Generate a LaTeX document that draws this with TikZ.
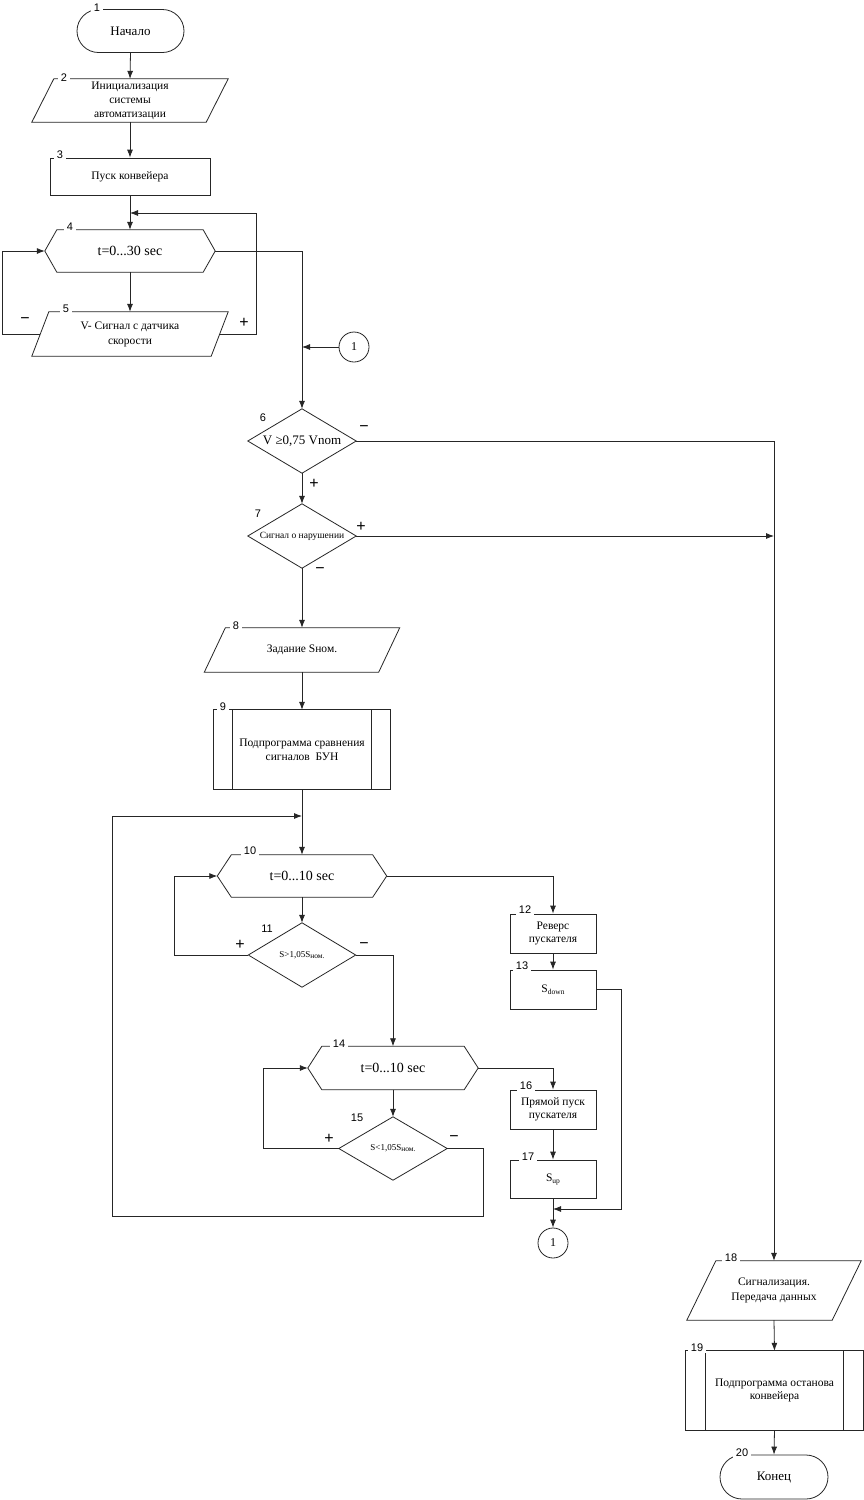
\documentclass[tikz,border=0pt]{standalone}
\usepackage{fontspec}
\setmainfont{Liberation Serif}
\newfontfamily\numfont{Liberation Sans}
\usetikzlibrary{arrows.meta,calc}

\newcommand\hexo[2]{\draw[fcline] (#1.west) -- ($(#1.north west)+(#2,0)$) -- ($(#1.north east)-(#2,0)$) -- (#1.east) -- ($(#1.south east)-(#2,0)$) -- ($(#1.south west)+(#2,0)$) -- cycle;}
\newcommand\parao[2]{\draw[fcline] (#1.south west) -- ($(#1.north west)+(#2,0)$) -- (#1.north east) -- ($(#1.south east)-(#2,0)$) -- cycle;}
\newcommand\predo[2]{\draw[fcline] (#1.north west) rectangle (#1.south east);
  \draw[fcline] ($(#1.north west)+(#2,0)$) -- ($(#1.south west)+(#2,0)$);
  \draw[fcline] ($(#1.north east)-(#2,0)$) -- ($(#1.south east)-(#2,0)$);}
\newcommand\diao[1]{\draw[fcline] (#1.north) -- (#1.east) -- (#1.south) -- (#1.west) -- cycle;}

\tikzset{
  fcline/.style={draw=black!85, line width=0.8pt},
  fcarr/.style={fcline, -{Latex[length=8pt,width=6pt]}},
  fcbox/.style n args={2}{inner sep=0pt, align=center, minimum width=#1, minimum height=#2, font=\fontsize{11.5}{14}\selectfont},
  fcnum/.style={fill=white, inner xsep=3pt, inner ysep=1pt, font=\numfont\fontsize{11}{12}\selectfont},
  fcsgn/.style={inner sep=0pt, font=\numfont\fontsize{16}{16}\selectfont},
  fcconn/.style={fcline, circle, minimum size=30pt, inner sep=0pt, font=\fontsize{12}{14}\selectfont},
}

\begin{document}
\begin{tikzpicture}[x=1pt,y=-1pt]
\fill[white] (0,0) rectangle (864,1500);
\useasboundingbox (0,0) rectangle (864,1500);

% ---- nodes ----
\node[fcbox={107pt}{43pt}, fcline, rounded corners=21.5pt, font=\fontsize{13}{15}\selectfont] (n1) at (130.5,31) {Начало};
\node[fcbox={196pt}{43pt}] (n2) at (130,100.5) {Инициализация\\системы\\автоматизации};
\node[fcbox={160pt}{37pt}, fcline] (n3) at (130,176.5) {Пуск конвейера};
\node[fcbox={170pt}{42pt}, font=\fontsize{14}{16}\selectfont] (n4) at (130,251) {t=0...30 sec};
\node[fcbox={196pt}{44pt}, font=\fontsize{11.5}{15}\selectfont] (n5) at (130,334) {V- Сигнал с датчика\\скорости};
\node[fcconn] (c1) at (354,347) {1};
\node[fcbox={108pt}{64pt}, font=\fontsize{13}{15}\selectfont] (n6) at (302,441) {V ≥0,75 Vnom};
\node[fcbox={108pt}{64pt}, font=\fontsize{9.5}{11}\selectfont] (n7) at (302,536) {Сигнал о нарушении};
\node[fcbox={195pt}{44pt}] (n8) at (302,650) {Задание Sном.};
\node[fcbox={177pt}{79pt}] (n9) at (302,749.5) {Подпрограмма сравнения\\сигналов~~БУН};
\node[fcbox={169pt}{42pt}, font=\fontsize{14}{16}\selectfont] (n10) at (302,876) {t=0...10 sec};
\node[fcbox={107pt}{64pt}, font=\fontsize{9}{11}\selectfont] (n11) at (302,955) {S>1,05S\raisebox{-1pt}{\fontsize{7.5}{8}\selectfont ном.}};
\node[fcbox={86pt}{39pt}, fcline, font=\fontsize{11.5}{13.5}\selectfont] (n12) at (553,933.5) {Реверс\\пускателя};
\node[fcbox={86pt}{39pt}, fcline] (n13) at (553,989.5) {S\raisebox{-2pt}{\fontsize{7.5}{8}\selectfont down}};
\node[fcbox={170pt}{43pt}, font=\fontsize{14}{16}\selectfont] (n14) at (393,1068) {t=0...10 sec};
\node[fcbox={108pt}{63pt}, font=\fontsize{9}{11}\selectfont] (n15) at (393,1148.5) {S<1,05S\raisebox{-1pt}{\fontsize{7.5}{8}\selectfont ном.}};
\node[fcbox={86pt}{39pt}, fcline, font=\fontsize{11.5}{13.5}\selectfont] (n16) at (553,1109.5) {Прямой пуск\\пускателя};
\node[fcbox={86pt}{38pt}, fcline] (n17) at (553,1179) {S\raisebox{-2pt}{\fontsize{7.5}{8}\selectfont up}};
\node[fcconn] (c2) at (553,1243) {1};
\node[fcbox={174pt}{59pt}, font=\fontsize{11.5}{15}\selectfont] (n18) at (774,1290.5) {Сигнализация.\\Передача данных};
\node[fcbox={177pt}{79pt}, font=\fontsize{11.5}{13.5}\selectfont] (n19) at (774.5,1390.5) {Подпрограмма останова\\конвейера};
\node[fcbox={108pt}{44pt}, fcline, rounded corners=22pt, font=\fontsize{13}{15}\selectfont] (n20) at (774,1477) {Конец};

% ---- outlines ----
\parao{n2}{22}
\hexo{n4}{12}
\parao{n5}{17}
\diao{n6}
\diao{n7}
\parao{n8}{21}
\predo{n9}{19}
\hexo{n10}{14}
\diao{n11}
\hexo{n14}{14}
\diao{n15}
\parao{n18}{29}
\predo{n19}{20}

% ---- connectors ----
\coordinate (j1) at (130,213);
\coordinate (j2) at (302,347);
\coordinate (j3) at (774,536);
\coordinate (j4) at (302,816);
\coordinate (j5) at (553,1209);

\draw[fcarr] (n1.south) -- (n2.north);
\draw[fcarr] (n2.south) -- (n3.north);
\draw[fcarr] (n3.south) -- (n4.north);
\draw[fcarr] (n4.south) -- (n5.north);
\draw[fcarr] ($(n5.east)+(-8.5,0)$) -| (256,213) -- (j1);
\draw[fcarr] ($(n5.west)+(8.5,0)$) -| (2,251) -- (n4.west);
\draw[fcarr] (n4.east) -| (n6.north);
\draw[fcarr] (c1.west) -- (j2);
\draw[fcarr] (n6.east) -| (n18.north);
\draw[fcarr] (n6.south) -- (n7.north);
\draw[fcarr] (n7.east) -- (j3);
\draw[fcarr] (n7.south) -- (n8.north);
\draw[fcarr] (n8.south) -- (n9.north);
\draw[fcarr] (n9.south) -- (n10.north);
\draw[fcarr] (n10.south) -- (n11.north);
\draw[fcarr] (n11.west) -| (174,876) -- (n10.west);
\draw[fcarr] (n11.east) -| (n14.north);
\draw[fcarr] (n10.east) -| (n12.north);
\draw[fcarr] (n12.south) -- (n13.north);
\draw[fcarr] (n13.east) -| (621,1209) -- (j5);
\draw[fcarr] (n14.south) -- (n15.north);
\draw[fcarr] (n15.west) -| (263,1068) -- (n14.west);
\draw[fcarr] (n15.east) -| (483,1216) -| (112,816) -- (j4);
\draw[fcarr] (n14.east) -| (n16.north);
\draw[fcarr] (n16.south) -- (n17.north);
\draw[fcarr] (n17.south) -- (c2.north);
\draw[fcarr] (n18.south) -- (n19.north);
\draw[fcarr] (n19.south) -- (n20.north);

% ---- numbers ----
\node[fcnum] (l1) at (97,8) {1};
\node[fcnum] (l2) at (64,77.5) {2};
\node[fcnum] (l3) at (60,155) {3};
\node[fcnum] (l4) at (70,227) {4};
\node[fcnum] (l5) at (66,309) {5};
\node[fcnum] (l6) at (263,418) {6};
\node[fcnum] (l7) at (258,514) {7};
\node[fcnum] (l8) at (236,626) {8};
\node[fcnum] (l9) at (223,707) {9};
\node[fcnum] (l10) at (250,851) {10};
\node[fcnum] (l11) at (267,929) {11};
\node[fcnum] (l12) at (525,910) {12};
\node[fcnum] (l13) at (522,966) {13};
\node[fcnum] (l14) at (339,1044) {14};
\node[fcnum] (l15) at (357,1118) {15};
\node[fcnum] (l16) at (526,1086) {16};
\node[fcnum] (l17) at (528,1157) {17};
\node[fcnum] (l18) at (731,1258) {18};
\node[fcnum] (l19) at (697,1348) {19};
\node[fcnum] (l20) at (742,1453) {20};

% ---- signs ----
\node[fcsgn] (s1) at (25,321) {−};
\node[fcsgn] (s2) at (244,323) {+};
\node[fcsgn] (s3) at (364,429) {−};
\node[fcsgn] (s4) at (314,484) {+};
\node[fcsgn] (s5) at (361,527) {+};
\node[fcsgn] (s6) at (320,571) {−};
\node[fcsgn] (s7) at (240,945) {+};
\node[fcsgn] (s8) at (364,946) {−};
\node[fcsgn] (s9) at (329,1139) {+};
\node[fcsgn] (s10) at (454,1139) {−};
\end{tikzpicture}
\end{document}
